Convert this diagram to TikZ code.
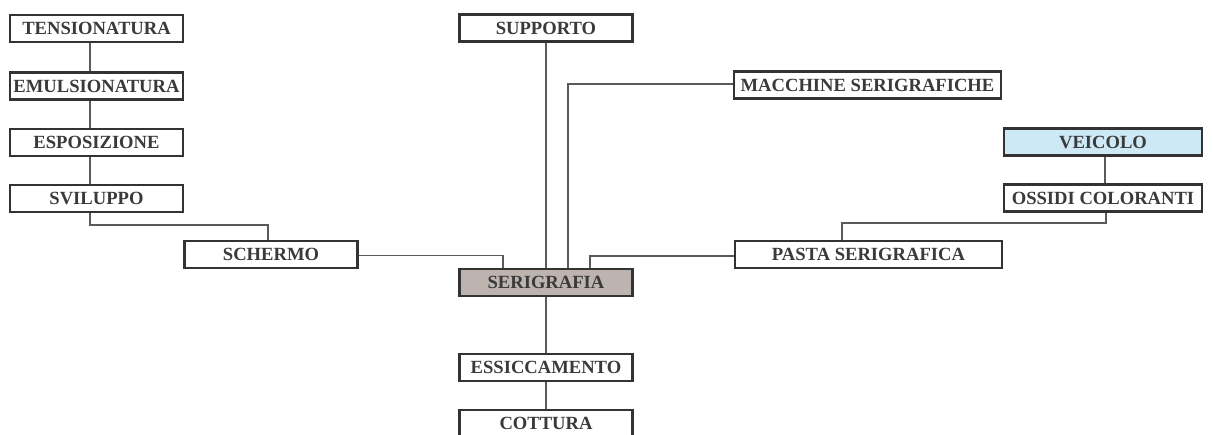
\documentclass[tikz,border=0pt]{standalone}
\usepackage{fontspec}
\setmainfont{Liberation Serif}
\definecolor{boxline}{HTML}{333333}
\definecolor{txt}{HTML}{3A3A3A}
\definecolor{conn}{HTML}{5A5A5A}
\definecolor{taupe}{HTML}{BEB4AF}
\definecolor{pale}{HTML}{CDE9F6}
\tikzset{
  box/.style={draw=boxline, line width=2.6pt, fill=white, text=txt,
    font=\fontsize{18.6}{18.6}\selectfont\bfseries, inner sep=0pt,
    minimum height=27pt},
  wS/.style={minimum width=173pt},
  wL/.style={minimum width=267pt},
  wV/.style={minimum width=198pt},
  link/.style={draw=conn, line width=1.2pt}
}
\begin{document}
\begin{tikzpicture}[x=1pt,y=-1pt]
\useasboundingbox (0,0) rectangle (1213,435);
\clip (0,0) rectangle (1213,435);
\fill[white] (0,0) rectangle (1213,435);
% nodes
\node[box,wS] (tens) at (96.5,28.5) {TENSIONATURA};
\node[box,wS] (emul) at (96.5,86) {EMULSIONATURA};
\node[box,wS] (espo) at (96.5,142.5) {ESPOSIZIONE};
\node[box,wS] (svil) at (96.5,198.5) {SVILUPPO};
\node[box,wS] (sche) at (271,254.5) {SCHERMO};
\node[box,wS] (supp) at (546,28) {SUPPORTO};
\node[box,wS,fill=taupe] (seri) at (546,282.5) {SERIGRAFIA};
\node[box,wS] (essi) at (546,367.5) {ESSICCAMENTO};
\node[box,wS] (cott) at (546,423.5) {COTTURA};
\node[box,wL] (macc) at (867.5,85) {MACCHINE SERIGRAFICHE};
\node[box,wV,fill=pale] (veic) at (1103,142) {VEICOLO};
\node[box,wV] (ossi) at (1103,198) {OSSIDI COLORANTI};
\node[box,wL] (past) at (868.5,254.5) {PASTA SERIGRAFICA};
% junction levels
\coordinate (jl) at (0,225);
\coordinate (jr) at (0,223);
% connectors
\draw[link] ([xshift=-6.5pt]tens.south) -- ([xshift=-6.5pt]emul.north);
\draw[link] ([xshift=-6.5pt]emul.south) -- ([xshift=-6.5pt]espo.north);
\draw[link] ([xshift=-6.5pt]espo.south) -- ([xshift=-6.5pt]svil.north);
\draw[link] ([xshift=-6.5pt]svil.south) -- ([xshift=-6.5pt]svil.south |- jl) -| ([xshift=-3pt]sche.north);
\draw[link] ([yshift=-1pt]sche.east) -| ([xshift=-43pt]seri.north);
\draw[link] (supp.south) -- (seri.north);
\draw[link] ([yshift=1pt]macc.west) -| ([xshift=22pt]seri.north);
\draw[link] ([yshift=-1.5pt]past.west) -| ([xshift=44pt]seri.north);
\draw[link] ([xshift=2pt]veic.south) -- ([xshift=2pt]ossi.north);
\draw[link] ([xshift=3pt]ossi.south) -- ([xshift=3pt]ossi.south |- jr) -| ([xshift=-26.5pt]past.north);
\draw[link] (seri.south) -- (essi.north);
\draw[link] (essi.south) -- (cott.north);
\end{tikzpicture}
\end{document}
